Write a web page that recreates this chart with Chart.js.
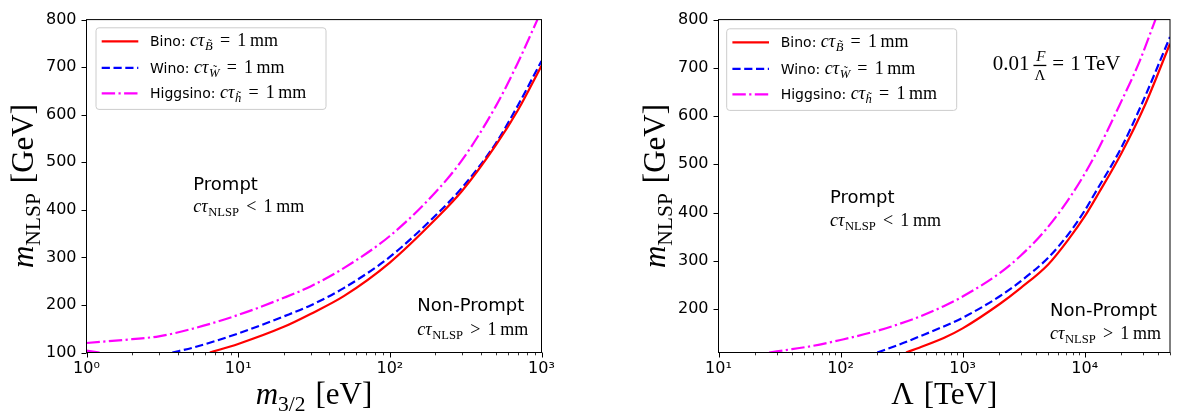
<!DOCTYPE html>
<html><head><meta charset="utf-8">
<script src="https://cdn.jsdelivr.net/npm/chart.js@4.4.1/dist/chart.umd.min.js"></script>
<style>
html,body{margin:0;padding:0;background:#fff;}
#wrap{position:relative;width:1177px;height:414px;overflow:hidden;background:#fff;}
canvas{position:absolute;top:0;}
</style></head><body>
<div id="wrap">
<canvas id="left" width="590" height="414" style="left:0px"></canvas>
<canvas id="right" width="587" height="414" style="left:590px"></canvas>
</div>
<script>
// ---------------- data ----------------
const seriesNames = ['Bino', 'Wino', 'Higgsino'];
const seriesSubs = ['B', 'W', 'h'];

// left panel: x = m_3/2 [eV], y = m_NLSP [GeV]
const leftBinoX = [6.5, 10, 20, 30, 50, 100, 200, 300, 500, 700, 1000];
const leftBinoY = [100, 118, 154, 181, 219, 289, 380, 440, 536, 610, 703];
const leftWinoX = [3.68, 5, 10, 20, 30, 50, 100, 200, 300, 500, 700, 1000];
const leftWinoY = [100, 110, 140, 176, 199, 236, 301, 388, 447, 540, 620, 713];
const leftHiggsX = [1, 2, 3, 5, 10, 20, 30, 50, 100, 200, 300, 500, 700, 940];
const leftHiggsY = [120, 128, 134, 150, 179, 215, 239, 278, 345, 437, 505, 618, 710, 800];
const leftHiggsTailX = [1, 1.22];
const leftHiggsTailY = [104, 100];

// right panel: x = Lambda [TeV], y = m_NLSP [GeV]
const rightBinoX = [344, 441, 700, 1000, 2000, 3000, 5000, 7390, 10000, 13000, 20000, 31200, 50000];
const rightBinoY = [110, 120, 140, 160, 210, 244, 292, 345, 392, 440, 523, 623, 750];
const rightWinoX = [200, 300, 441, 700, 1000, 2000, 3000, 5000, 7390, 10000, 12000, 20000, 29000, 50000];
const rightWinoY = [110, 126, 143, 164, 182, 226, 258, 306, 356, 404, 438, 535, 622, 764];
const rightHiggsX = [26, 40, 60, 100, 200, 441, 700, 1000, 2000, 3000, 4775, 7870, 12000, 18900, 28000, 38000];
const rightHiggsY = [110, 117, 124, 136, 155, 184, 206, 226, 274, 311, 364, 438, 516, 618, 712, 800];

// ticks
const leftXMajor = [1, 10, 100, 1000];
const leftXLabels = ['10\u2070', '10\u00B9', '10\u00B2', '10\u00B3'];
const leftYTicks = [100, 200, 300, 400, 500, 600, 700, 800];
const rightXMajor = [10, 100, 1000, 10000];
const rightXLabels = ['10\u00B9', '10\u00B2', '10\u00B3', '10\u2074'];
const rightYTicks = [200, 300, 400, 500, 600, 700, 800];

// ---------------- styling helpers ----------------
const SANS = '"DejaVu Sans", sans-serif';
const SERIF = '"Liberation Serif", "DejaVu Serif", serif';
const COLORS = ['#ff0000', '#0000ff', '#ff00ff'];
const DASHES = [[], [8.2, 3.6], [13.4, 3.4, 2.2, 3.4]];

function curve(label, xs, ys, idx) {
  return {
    label: label,
    data: xs.map((x, i) => ({x: x, y: ys[i]})),
    borderColor: COLORS[idx], backgroundColor: COLORS[idx],
    borderWidth: 2.2, borderDash: DASHES[idx], borderCapStyle: 'butt',
    pointRadius: 0, pointHoverRadius: 0, fill: false,
    cubicInterpolationMode: 'monotone'
  };
}

function minorTicks(lo, hi) {
  const out = [];
  for (let e = Math.floor(Math.log10(lo)); e <= Math.ceil(Math.log10(hi)); e++) {
    for (let k = 1; k <= 9; k++) {
      const v = k * Math.pow(10, e);
      if (v >= lo * 0.9999 && v <= hi * 1.0001) out.push(v);
    }
  }
  return out;
}

function runsWidth(ctx, runs) {
  let w = 0;
  for (const r of runs) { ctx.font = r.f; w += ctx.measureText(r.t).width + (r.sp || 0); }
  return w;
}
function drawRuns(ctx, runs, x, y) {
  let cx = x;
  for (const r of runs) {
    ctx.font = r.f;
    const w = ctx.measureText(r.t).width;
    ctx.fillText(r.t, cx, y + (r.dy || 0));
    if (r.acc) {
      ctx.font = r.accF;
      const aw = ctx.measureText(r.acc).width;
      ctx.fillText(r.acc, cx + (w - aw) / 2 + (r.accDx || 0), y + (r.dy || 0) + r.accDy);
    }
    cx += w + (r.sp || 0);
  }
  return cx - x;
}
function ctauRuns(size, sub, subItalic, tilde, rel) {
  const s2 = size * 0.7;
  return [
    {t: 'c\u03C4', f: `italic ${size}px ${SERIF}`, sp: 0.5},
    {t: sub, f: `${subItalic ? 'italic ' : ''}${s2}px ${SERIF}`, dy: size * 0.22,
      acc: tilde ? '\u02DC' : null, accF: `${s2}px ${SERIF}`, accDy: -s2 * 0.2, accDx: s2 * 0.08, sp: size * 0.4},
    {t: rel, f: `${size}px ${SERIF}`, sp: size * 0.4},
    {t: '1', f: `${size}px ${SERIF}`, sp: size * 0.2},
    {t: 'mm', f: `${size}px ${SERIF}`}
  ];
}

function decoPlugin(cfg) {
  return {
    id: 'deco',
    afterDraw(chart) {
      const ctx = chart.ctx;
      const a = chart.chartArea;
      const xs = chart.scales.x, ys = chart.scales.y;
      ctx.save();
      ctx.fillStyle = '#000';
      ctx.strokeStyle = '#000';
      ctx.setLineDash([]);
      // frame
      ctx.lineWidth = 1;
      ctx.strokeRect(a.left, a.top, a.right - a.left, a.bottom - a.top);
      // x tick marks
      for (const t of xs.ticks) {
        const p = xs.getPixelForValue(t.value);
        const major = cfg.xMajor.indexOf(t.value) >= 0;
        ctx.lineWidth = major ? 1 : 0.8;
        ctx.beginPath();
        ctx.moveTo(Math.round(p) + 0.5, a.bottom);
        ctx.lineTo(Math.round(p) + 0.5, a.bottom + (major ? 5 : 2.8));
        ctx.stroke();
      }
      // y tick marks
      ctx.lineWidth = 1;
      for (const t of ys.ticks) {
        const p = ys.getPixelForValue(t.value);
        ctx.beginPath();
        ctx.moveTo(a.left - 5, Math.round(p) + 0.5);
        ctx.lineTo(a.left, Math.round(p) + 0.5);
        ctx.stroke();
      }
      // axis titles
      ctx.textBaseline = 'alphabetic';
      ctx.textAlign = 'left';
      const xw = runsWidth(ctx, cfg.xTitle);
      drawRuns(ctx, cfg.xTitle, (a.left + a.right) / 2 - xw / 2, cfg.xTitleBase);
      ctx.save();
      ctx.translate(a.left - cfg.yTitleGap, (a.top + a.bottom) / 2);
      ctx.rotate(-Math.PI / 2);
      const yw = runsWidth(ctx, cfg.yTitle);
      drawRuns(ctx, cfg.yTitle, -yw / 2, 0);
      ctx.restore();

      // legend
      const bx = a.left + cfg.legendDx, by = a.top + cfg.legendDy;
      ctx.beginPath();
      ctx.roundRect(bx, by, 230, 81.6, 3);
      ctx.fillStyle = 'rgba(255,255,255,0.8)';
      ctx.fill();
      ctx.strokeStyle = '#cccccc';
      ctx.lineWidth = 1;
      ctx.stroke();
      const rows = [13.6, 40, 65.6];
      for (let i = 0; i < 3; i++) {
        const ds = chart.data.datasets[i];
        const ry = by + rows[i];
        ctx.save();
        ctx.strokeStyle = ds.borderColor;
        ctx.lineWidth = ds.borderWidth;
        ctx.setLineDash(ds.borderDash || []);
        ctx.beginPath();
        ctx.moveTo(bx + 5.7, ry);
        ctx.lineTo(bx + 42.3, ry);
        ctx.stroke();
        ctx.restore();
        ctx.fillStyle = '#000';
        const runs = [{t: seriesNames[i] + ': ', f: `14px ${SANS}`}].concat(
          ctauRuns(18, seriesSubs[i], true, true, '='));
        drawRuns(ctx, runs, bx + 54, ry + 5);
      }

      // region annotations
      ctx.fillStyle = '#000';
      for (const n of cfg.notes) {
        ctx.font = `18px ${SANS}`;
        ctx.fillText(n.title, a.left + n.dx, a.top + n.dy1);
        const runs = ctauRuns(18, 'NLSP', false, false, n.rel);
        drawRuns(ctx, runs, a.left + n.dx, a.top + n.dy2);
      }

      // fraction annotation
      if (cfg.frac) {
        const x0 = a.left + cfg.frac.dx, base = a.top + cfg.frac.dy;
        ctx.font = `21px ${SERIF}`;
        ctx.fillText('0.01', x0, base);
        let x = x0 + ctx.measureText('0.01').width + 4;
        ctx.font = `italic 15px ${SERIF}`;
        const wF = ctx.measureText('F').width;
        ctx.font = `15px ${SERIF}`;
        const wL = ctx.measureText('\u039B').width;
        const fw = Math.max(wF, wL) + 2;
        ctx.fillRect(x, base - 5, fw, 1.3);
        ctx.font = `italic 15px ${SERIF}`;
        ctx.fillText('F', x + (fw - wF) / 2 + 1, base - 8.5);
        ctx.font = `15px ${SERIF}`;
        ctx.fillText('\u039B', x + (fw - wL) / 2, base + 10);
        x += fw + 6;
        ctx.font = `21px ${SERIF}`;
        ctx.fillText('=', x, base);
        x += ctx.measureText('=').width + 6;
        ctx.fillText('1', x, base);
        x += ctx.measureText('1').width + 4;
        ctx.fillText('TeV', x, base);
      }
      ctx.restore();
    }
  };
}

function makePanel(id, cfg) {
  const allX = minorTicks(cfg.xMin, cfg.xMax);
  return new Chart(document.getElementById(id), {
    type: 'line',
    data: {datasets: cfg.datasets},
    options: {
      responsive: false, animation: false, devicePixelRatio: 1,
      events: [],
      layout: {padding: {top: cfg.padTop, right: cfg.padRight, left: 0, bottom: 0}},
      plugins: {legend: {display: false}, tooltip: {enabled: false}},
      scales: {
        x: {
          type: 'logarithmic', position: 'bottom', min: cfg.xMin, max: cfg.xMax, bounds: 'data',
          grid: {display: false, drawTicks: false}, border: {display: false},
          ticks: {
            autoSkip: false, maxRotation: 0, minRotation: 0, padding: 7, color: '#000',
            font: {family: 'DejaVu Sans', size: 16},
            callback: (v) => { const k = cfg.xMajor.indexOf(v); return k >= 0 ? cfg.xLabels[k] : ''; }
          },
          afterBuildTicks: (s) => { s.ticks = allX.map(v => ({value: v})); },
          afterFit: (s) => { s.height = cfg.xAxisH; }
        },
        y: {
          type: 'linear', min: cfg.yMin, max: cfg.yMax, bounds: 'data',
          grid: {display: false, drawTicks: false}, border: {display: false},
          ticks: {padding: 10, color: '#000', font: {family: 'DejaVu Sans', size: 16},
            callback: (v) => String(v)},
          afterBuildTicks: (s) => { s.ticks = cfg.yTicks.map(v => ({value: v})); },
          afterFit: (s) => { s.width = cfg.yAxisW; }
        }
      }
    },
    plugins: [decoPlugin(cfg)]
  });
}

const mathIt = (s) => `italic ${s}px ${SERIF}`;
const mathRm = (s) => `${s}px ${SERIF}`;

makePanel('left', {
  xMin: 1, xMax: 1000, yMin: 100, yMax: 800,
  xMajor: leftXMajor, xLabels: leftXLabels, yTicks: leftYTicks,
  padTop: 12.5, padRight: 48.5, yAxisW: 86.5, xAxisH: 61.5,
  datasets: [
    curve(seriesNames[0], leftBinoX, leftBinoY, 0),
    curve(seriesNames[1], leftWinoX, leftWinoY, 1),
    curve(seriesNames[2], leftHiggsX, leftHiggsY, 2),
    curve(seriesNames[2] + ' (low)', leftHiggsTailX, leftHiggsTailY, 2)
  ],
  xTitle: [{t: 'm', f: mathIt(31)}, {t: '3/2', f: mathRm(21.5), dy: 6.5, sp: 10}, {t: '[eV]', f: mathRm(31)}],
  xTitleBase: 404,
  yTitle: [{t: 'm', f: mathIt(31)}, {t: 'NLSP', f: mathRm(21.5), dy: 6.5, sp: 10}, {t: '[GeV]', f: mathRm(31)}],
  yTitleGap: 53.5,
  legendDx: 9.5, legendDy: 8.2,
  notes: [
    {title: 'Prompt', rel: '<', dx: 106.8, dy1: 170.2, dy2: 192.5},
    {title: 'Non-Prompt', rel: '>', dx: 330.8, dy1: 291.5, dy2: 315.2}
  ],
  frac: null
});

makePanel('right', {
  xMin: 10, xMax: 50000, yMin: 110, yMax: 800,
  xMajor: rightXMajor, xLabels: rightXLabels, yTicks: rightYTicks,
  padTop: 11.5, padRight: 5.5, yAxisW: 128.5, xAxisH: 61.5,
  datasets: [
    curve(seriesNames[0], rightBinoX, rightBinoY, 0),
    curve(seriesNames[1], rightWinoX, rightWinoY, 1),
    curve(seriesNames[2], rightHiggsX, rightHiggsY, 2)
  ],
  xTitle: [{t: '\u039B', f: mathRm(31), sp: 10}, {t: '[TeV]', f: mathRm(31)}],
  xTitleBase: 404,
  yTitle: [{t: 'm', f: mathIt(31)}, {t: 'NLSP', f: mathRm(21.5), dy: 6.5, sp: 10}, {t: '[GeV]', f: mathRm(31)}],
  yTitleGap: 53.5,
  legendDx: 8.2, legendDy: 9.2,
  notes: [
    {title: 'Prompt', rel: '<', dx: 111.5, dy1: 183.5, dy2: 206.2},
    {title: 'Non-Prompt', rel: '>', dx: 331.5, dy1: 296.8, dy2: 319.2}
  ],
  frac: {dx: 274.2, dy: 50.2}
});
</script>
</body></html>
